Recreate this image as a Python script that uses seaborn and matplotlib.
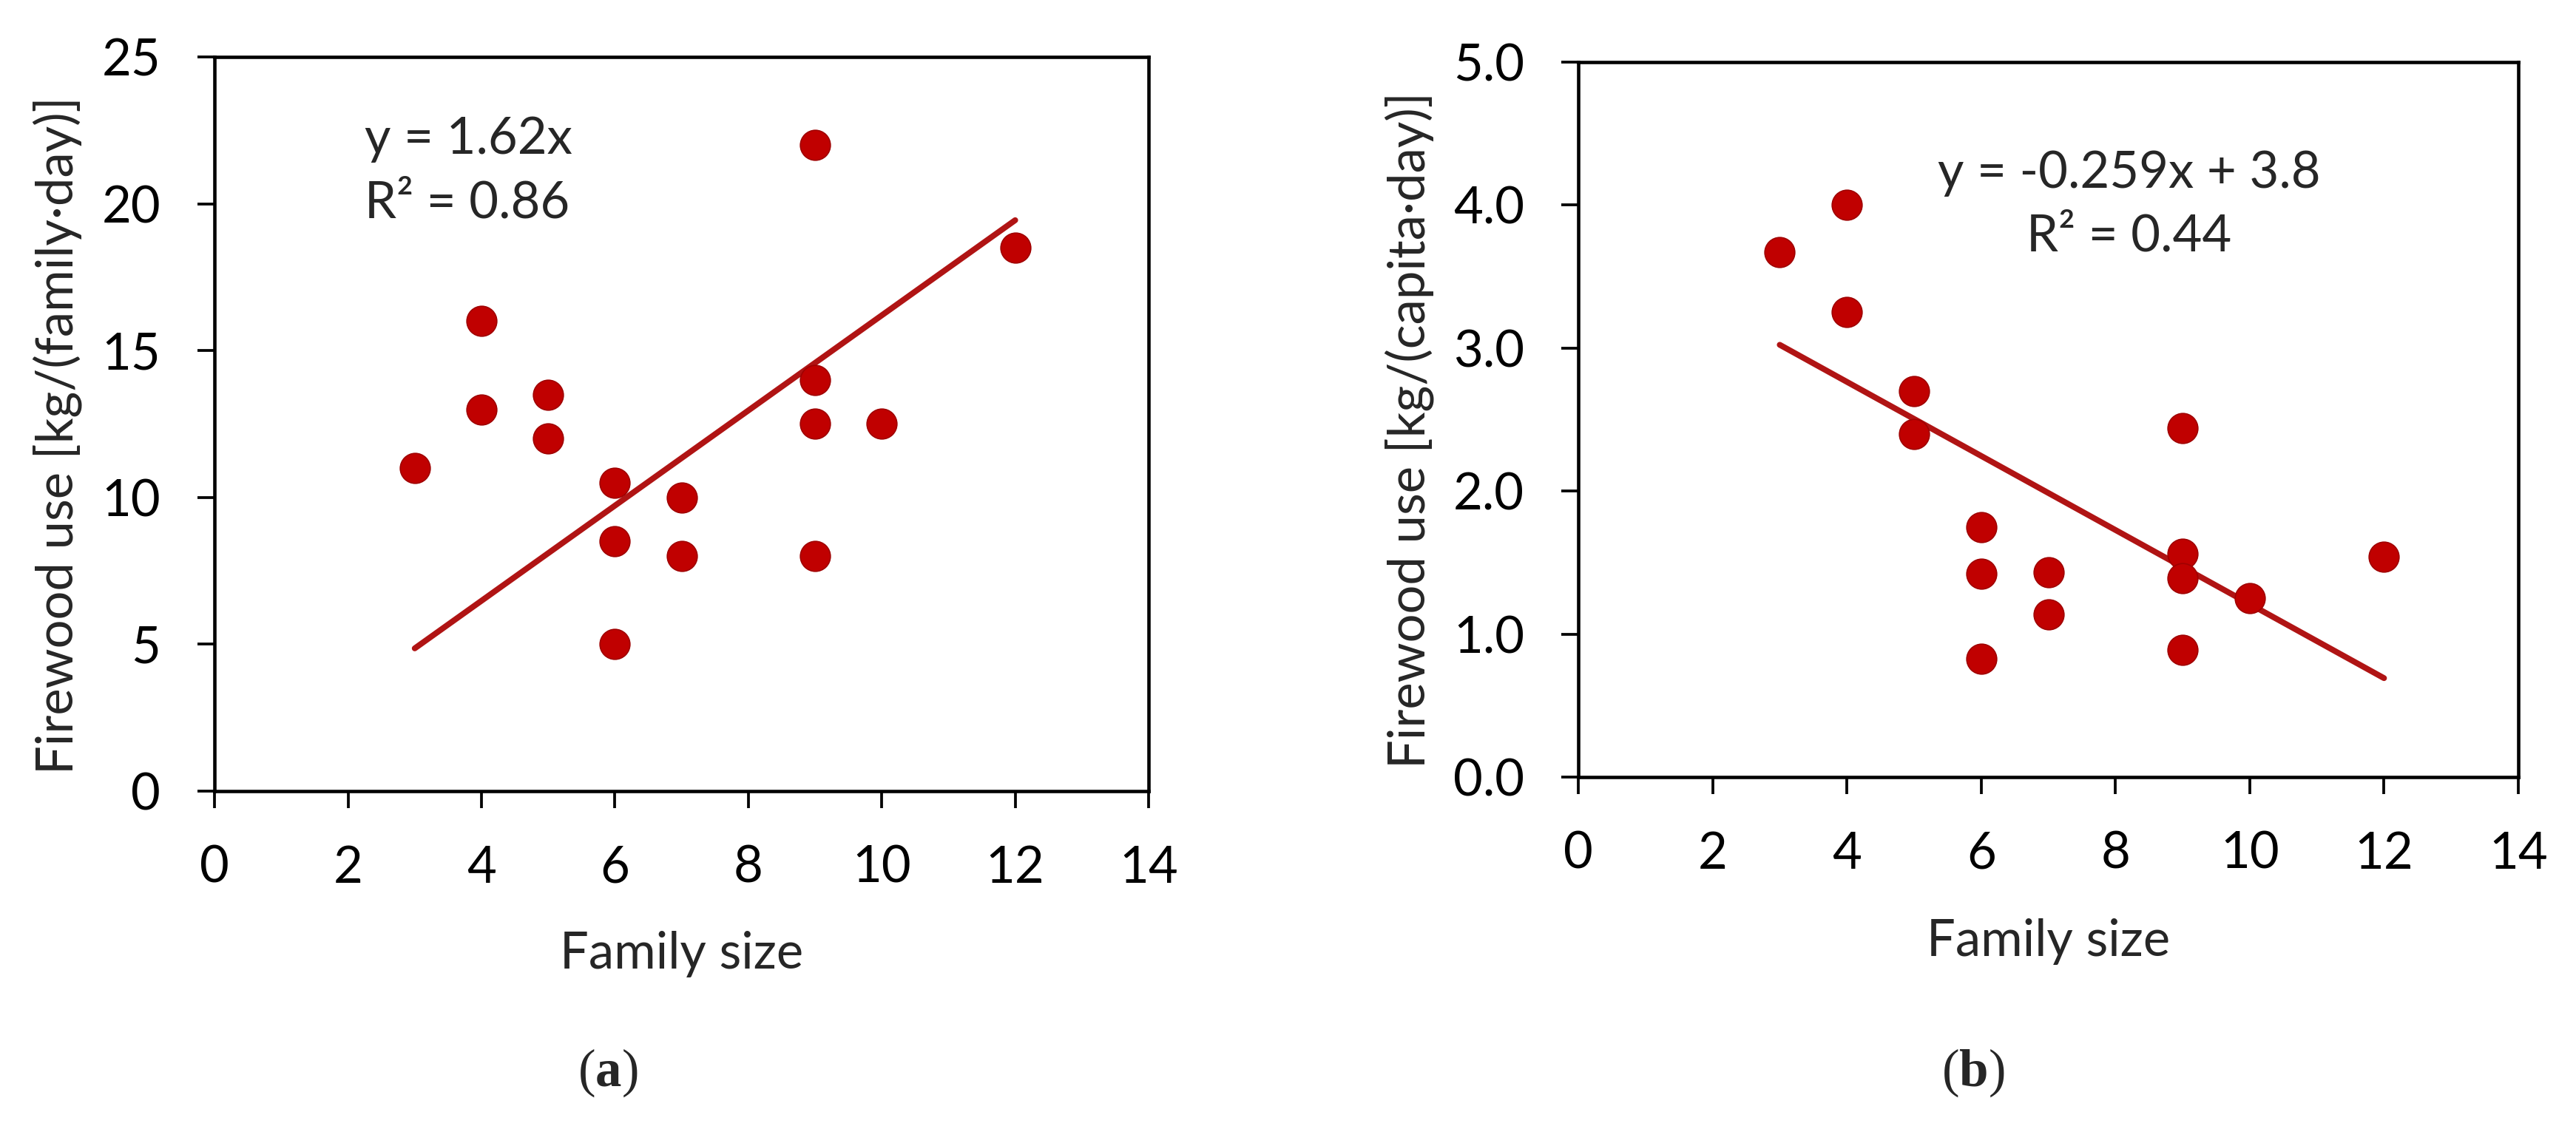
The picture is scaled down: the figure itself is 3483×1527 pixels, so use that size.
import numpy as np
import pandas as pd
import matplotlib
matplotlib.use("Agg")
import matplotlib.pyplot as plt
import seaborn as sns

# values
family_size = [3, 4, 4, 5, 5, 6, 6, 6, 7, 7, 9, 9, 9, 9, 10, 12]
firewood_family = [11, 16, 13, 13.5, 12, 10.5, 8.5, 5, 10, 8, 22, 14, 12.5, 8, 12.5, 18.5]
firewood_capita = [3.67, 4.0, 3.25, 2.7, 2.4, 1.75, 1.42, 0.83, 1.43, 1.14,
                   2.44, 1.56, 1.39, 0.89, 1.25, 1.54]

# trend lines as printed on the chart
fit_slope = [1.62, -0.259]
fit_intercept = [0.0, 3.8]
fit_text = ["y = 1.62x\nR\u00b2 = 0.86", "y = -0.259x + 3.8\nR\u00b2 = 0.44"]

ylabels = ["Firewood use [kg/(family\u00b7day)]", "Firewood use [kg/(capita\u00b7day)]"]
panel_tags = ["a", "b"]

sns.set_theme(style="ticks")
plt.rcParams["font.family"] = ["Lato", "DejaVu Sans"]
plt.rcParams["mathtext.fontset"] = "custom"
plt.rcParams["mathtext.rm"] = "Liberation Serif"
plt.rcParams["mathtext.bf"] = "Liberation Serif:bold"

DOT = "#c00000"
LINE = "#b01414"

df = pd.DataFrame({"family": family_size,
                   "per_family": firewood_family,
                   "per_capita": firewood_capita})

fig = plt.figure(figsize=(3483 / 300, 1527 / 300), dpi=300)
ax1 = fig.add_axes([0.0833, 0.2993, 0.3626, 0.6503])
ax2 = fig.add_axes([0.6127, 0.3117, 0.3649, 0.6333])
axes = [ax1, ax2]
ycols = ["per_family", "per_capita"]


def style_axis(ax):
    for sp in ax.spines.values():
        sp.set_visible(True)
        sp.set_color("black")
        sp.set_linewidth(1.1)
    ax.tick_params(direction="out", length=5.5, width=0.9, pad=12,
                   labelsize=16.5, color="black", labelcolor="black")
    ax.set_xlim(0, 14)
    ax.set_xticks(np.arange(0, 15, 2))
    ax.grid(False)


for i, ax in enumerate(axes):
    sns.scatterplot(data=df, x="family", y=ycols[i], ax=ax, s=95,
                    color=DOT, edgecolor="#a00000", linewidth=0.4, zorder=3)
    xs = np.array([min(family_size), max(family_size)])
    line_df = pd.DataFrame({"x": xs, "y": fit_slope[i] * xs + fit_intercept[i]})
    sns.lineplot(data=line_df, x="x", y="y", ax=ax, color=LINE, lw=1.9, zorder=2)
    style_axis(ax)
    ax.set_xlabel("Family size", fontsize=16.5)
    ax.set_ylabel(ylabels[i], fontsize=16.5)
    ax.xaxis.label.set_verticalalignment("center")
    ax.yaxis.label.set_verticalalignment("center")

ax1.set_ylim(0, 25)
ax1.set_yticks(np.arange(0, 26, 5))
ax2.set_ylim(0, 5)
ax2.set_yticks(np.arange(0, 5.1, 1))
ax2.set_yticklabels([f"{v:.1f}" for v in np.arange(0, 5.1, 1)])

ax1.xaxis.set_label_coords(0.5, -0.222)
ax2.xaxis.set_label_coords(0.5, -0.23)
ax1.yaxis.set_label_coords(-0.168, 0.485)
ax2.yaxis.set_label_coords(-0.18, 0.485)

ax1.text(2.25, 21.1, fit_text[0], fontsize=16.5, ha="left", va="center",
         linespacing=1.45)
ax2.text(8.2, 4.0, fit_text[1], fontsize=16.5, ha="center", va="center",
         linespacing=1.45)

for tag, xpos in zip(panel_tags, [0.236, 0.766]):
    fig.text(xpos, 0.05, "($\\mathbf{" + tag + "}$)", fontsize=17,
             ha="center", va="center", family="Liberation Serif")

fig.savefig("out.png", dpi=300, facecolor="white")
